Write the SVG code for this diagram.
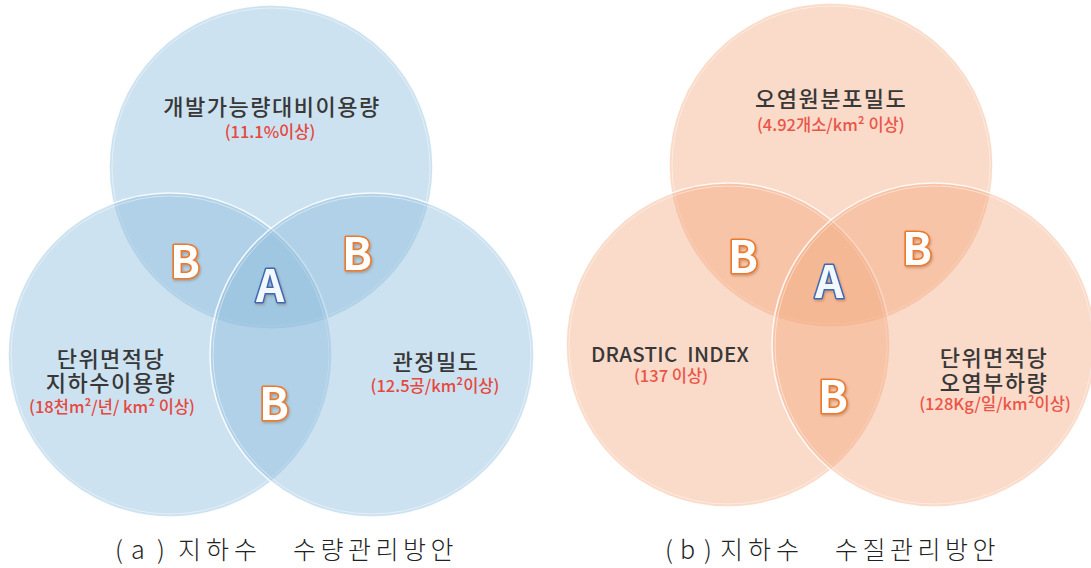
<svg xmlns="http://www.w3.org/2000/svg" width="1091" height="568" viewBox="0 0 1091 568">
<defs>
<style>
.cb{fill:rgb(136,186,219);fill-opacity:0.42;stroke:#fff;stroke-width:1.6;stroke-opacity:0.85}
.co{fill:rgb(243,167,124);fill-opacity:0.42;stroke:#fff;stroke-width:1.6;stroke-opacity:0.85}
.rim{fill:none;stroke:#fff;stroke-width:1;stroke-opacity:0.45}
.t{font-family:"Noto Sans CJK KR","Noto Sans",sans-serif;font-size:22px;letter-spacing:1.5px;font-weight:500;fill:#383838;text-anchor:middle}
.r{font-family:"Noto Sans CJK KR","Noto Sans",sans-serif;font-size:16.5px;font-weight:500;fill:#e5483e;text-anchor:middle}
.r2{fill:#ea5548}
.B{font-family:"Noto Sans CJK KR","Noto Sans",sans-serif;font-weight:700;font-size:44px;fill:#fff;stroke:#ec7a2e;stroke-width:3.2;stroke-linejoin:round;paint-order:stroke;text-anchor:middle;filter:url(#sh)}
.A{font-family:"Noto Sans CJK KR","Noto Sans",sans-serif;font-weight:700;font-size:44px;fill:#f3f8fe;stroke:#3b69b2;stroke-width:3;stroke-linejoin:round;paint-order:stroke;text-anchor:middle;filter:url(#sh)}
.cap{font-family:"Noto Sans CJK KR","Liberation Serif",serif;font-size:25px;font-weight:300;fill:#222}
</style>
<filter id="sh" x="-20%" y="-20%" width="140%" height="140%">
<feDropShadow dx="1" dy="1.5" stdDeviation="0.8" flood-color="#7a4020" flood-opacity="0.35"/>
</filter>
</defs>
<rect width="1091" height="568" fill="#fff"/>

<g id="diagram-a">
<g id="a-top">
<circle class="cb" cx="271" cy="167" r="162"/>
<circle class="rim" cx="271" cy="167" r="159"/>
<text class="t" x="272" y="115">개발가능량대비이용량</text>
<text class="r" x="270" y="138">(11.1%이상)</text>
</g>
<g id="a-left">
<circle class="cb" cx="170" cy="355" r="162"/>
<circle class="rim" cx="170" cy="355" r="159"/>
<text class="t" x="111" y="367">단위면적당</text>
<text class="t" x="111" y="391">지하수이용량</text>
<text class="r" x="112" y="413">(18천m²/년/ km² 이상)</text>
</g>
<g id="a-right">
<circle class="cb" cx="372" cy="355" r="162"/>
<circle class="rim" cx="372" cy="355" r="159"/>
<text class="t" x="436" y="370">관정밀도</text>
<text class="r" x="435" y="392">(12.5공/km²이상)</text>
</g>
<g id="a-letters">
<text class="B" x="185" y="278">B</text>
<text class="B" x="357" y="270">B</text>
<text class="A" x="270" y="302">A</text>
<text class="B" x="274" y="420">B</text>
</g>
</g>

<g id="diagram-b">
<g id="b-top">
<circle class="co" cx="831" cy="165" r="162"/>
<circle class="rim" cx="831" cy="165" r="159"/>
<text class="t" x="755" y="107" style="text-anchor:start">오염원분포밀도</text>
<text class="r r2" x="757" y="131" style="text-anchor:start">(4.92개소/km² 이상)</text>
</g>
<g id="b-left">
<circle class="co" cx="728" cy="345" r="162"/>
<circle class="rim" cx="728" cy="345" r="159"/>
<text class="t" x="670" y="362" xml:space="preserve" style="font-size:20.5px;letter-spacing:0.3px">DRASTIC  INDEX</text>
<text class="r r2" x="671" y="382">(137 이상)</text>
</g>
<g id="b-right">
<circle class="co" cx="934" cy="345" r="162"/>
<circle class="rim" cx="934" cy="345" r="159"/>
<text class="t" x="994" y="366">단위면적당</text>
<text class="t" x="994" y="391">오염부하량</text>
<text class="r r2" x="995" y="410">(128Kg/일/km²이상)</text>
</g>
<g id="b-letters">
<text class="B" x="743" y="273">B</text>
<text class="B" x="917" y="265">B</text>
<text class="A" x="829" y="298">A</text>
<text class="B" x="833" y="413">B</text>
</g>
</g>

<g id="captions">
<text class="cap" y="559"><tspan x="115">(</tspan><tspan x="131">a</tspan><tspan x="157">)</tspan><tspan x="178" letter-spacing="5">지하수</tspan><tspan x="293" letter-spacing="4.5">수량관리방안</tspan></text>
<text class="cap" y="559"><tspan x="665">(</tspan><tspan x="680">b</tspan><tspan x="704">)</tspan><tspan x="720" letter-spacing="5">지하수</tspan><tspan x="835" letter-spacing="4.5">수질관리방안</tspan></text>
</g>
</svg>
